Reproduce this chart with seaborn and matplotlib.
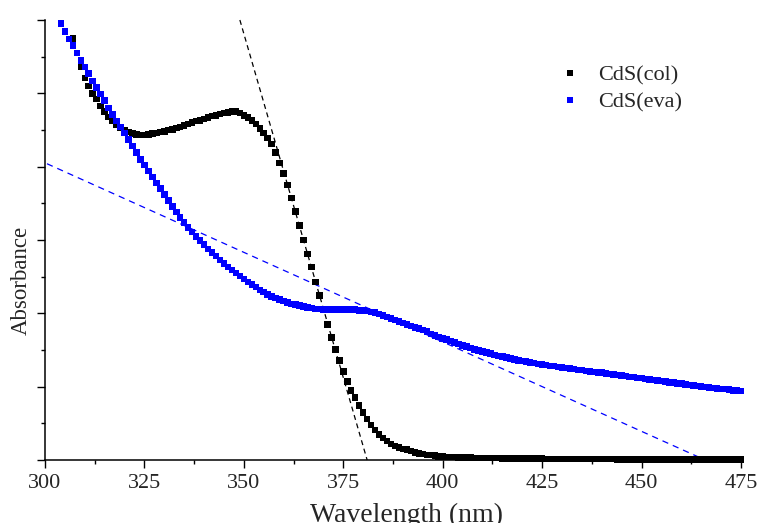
import numpy as np
import pandas as pd
import matplotlib
matplotlib.use("Agg")
import matplotlib.pyplot as plt
from matplotlib.ticker import MultipleLocator, NullFormatter
import seaborn as sns

# Absorption spectra of the two CdS films (absorbance, arbitrary units)
wl_col = np.arange(307, 476)
abs_col = [
    5.75, 5.55, 5.36, 5.21, 5.10, 5.00, 4.92, 4.83, 4.75, 4.68,
    4.62, 4.57, 4.53, 4.50, 4.47, 4.45, 4.44, 4.43, 4.43, 4.44,
    4.45, 4.46, 4.47, 4.48, 4.50, 4.51, 4.53, 4.54, 4.56, 4.58,
    4.60, 4.62, 4.63, 4.65, 4.67, 4.69, 4.70, 4.72, 4.73, 4.74,
    4.75, 4.75, 4.73, 4.70, 4.67, 4.63, 4.58, 4.52, 4.46, 4.39,
    4.31, 4.19, 4.05, 3.91, 3.75, 3.57, 3.39, 3.20, 3.00, 2.81,
    2.63, 2.43, 2.24, 2.05, 1.85, 1.67, 1.51, 1.36, 1.21, 1.07,
    0.95, 0.85, 0.74, 0.65, 0.56, 0.48, 0.41, 0.35, 0.30, 0.26,
    0.22, 0.19, 0.17, 0.15, 0.14, 0.12, 0.10, 0.09, 0.08, 0.07,
    0.065, 0.06, 0.05, 0.045, 0.042, 0.040, 0.038, 0.036, 0.034, 0.032,
    0.031, 0.030, 0.029, 0.028, 0.027, 0.026, 0.025, 0.024, 0.023, 0.022,
    0.021, 0.020, 0.020, 0.019, 0.019, 0.018, 0.018, 0.017, 0.017, 0.016,
    0.016, 0.015, 0.015, 0.015, 0.014, 0.014, 0.014, 0.013, 0.013, 0.013,
    0.012, 0.012, 0.012, 0.011, 0.011, 0.011, 0.011, 0.010, 0.010, 0.010,
    0.010, 0.009, 0.009, 0.009, 0.009, 0.009, 0.008, 0.008, 0.008, 0.008,
    0.008, 0.007, 0.007, 0.007, 0.007, 0.007, 0.007, 0.006, 0.006, 0.006,
    0.006, 0.006, 0.006, 0.005, 0.005, 0.005, 0.005, 0.005, 0.005,
]

wl_eva = np.arange(304, 476)
abs_eva = [
    5.955, 5.84, 5.74, 5.65, 5.55, 5.45, 5.36, 5.27, 5.17, 5.08,
    4.99, 4.90, 4.80, 4.71, 4.62, 4.54, 4.46, 4.37, 4.28, 4.19,
    4.10, 4.02, 3.94, 3.86, 3.78, 3.70, 3.62, 3.54, 3.46, 3.38,
    3.31, 3.24, 3.17, 3.11, 3.05, 2.99, 2.94, 2.88, 2.83, 2.78,
    2.73, 2.68, 2.63, 2.59, 2.55, 2.51, 2.47, 2.43, 2.39, 2.36,
    2.32, 2.29, 2.26, 2.23, 2.21, 2.19, 2.17, 2.15, 2.13, 2.12,
    2.11, 2.09, 2.08, 2.07, 2.06, 2.06, 2.05, 2.05, 2.05, 2.05,
    2.05, 2.05, 2.05, 2.05, 2.05, 2.04, 2.04, 2.03, 2.02, 2.01,
    1.99, 1.97, 1.95, 1.93, 1.91, 1.89, 1.87, 1.85, 1.83, 1.81,
    1.79, 1.77, 1.75, 1.72, 1.70, 1.68, 1.66, 1.64, 1.62, 1.60,
    1.58, 1.56, 1.545, 1.53, 1.51, 1.495, 1.48, 1.465, 1.45, 1.435,
    1.42, 1.41, 1.395, 1.385, 1.37, 1.36, 1.35, 1.34, 1.33, 1.32,
    1.31, 1.305, 1.295, 1.285, 1.28, 1.27, 1.26, 1.255, 1.245, 1.24,
    1.23, 1.225, 1.215, 1.21, 1.20, 1.195, 1.19, 1.18, 1.175, 1.165,
    1.16, 1.15, 1.145, 1.135, 1.13, 1.12, 1.115, 1.105, 1.10, 1.09,
    1.085, 1.075, 1.07, 1.06, 1.055, 1.045, 1.04, 1.03, 1.025, 1.015,
    1.01, 1.00, 0.995, 0.99, 0.985, 0.975, 0.97, 0.965, 0.96, 0.95,
    0.945, 0.94,
]

# Band-edge tangents (end points of each fitted straight line)
tan_col_x = [349.0, 381.0]
tan_col_y = [6.0, 0.0]
tan_eva_x = [300.5, 466.0]
tan_eva_y = [4.04, 0.0]

labels = ["CdS(col)", "CdS(eva)"]
colors = ["#000000", "#0000ff"]

df = pd.concat([
    pd.DataFrame({"wl": wl_col, "A": abs_col, "sample": labels[0]}),
    pd.DataFrame({"wl": wl_eva, "A": abs_eva, "sample": labels[1]}),
], ignore_index=True)

sns.set_theme(style="ticks")
plt.rcParams["font.family"] = "Liberation Serif"

fig = plt.figure(figsize=(7.6, 5.23), dpi=100)
ax = fig.add_axes([45 / 760, 1 - 460 / 523, 696 / 760, 440 / 523])

sns.lineplot(x=tan_col_x, y=tan_col_y, ax=ax, color="black", lw=0.9,
             linestyle=(0, (4, 3)), clip_on=False, zorder=2)
sns.lineplot(x=tan_eva_x, y=tan_eva_y, ax=ax, color="#0000ff", lw=0.9,
             linestyle=(0, (5, 4)), clip_on=False, zorder=2)

sns.scatterplot(data=df, x="wl", y="A", hue="sample", hue_order=labels,
                palette=colors, marker="s", s=22, linewidth=0,
                ax=ax, zorder=3, clip_on=False)

ax.set_xlim(300, 475)
ax.set_ylim(0, 6)
ax.xaxis.set_major_locator(MultipleLocator(25))
ax.xaxis.set_minor_locator(MultipleLocator(12.5))
ax.yaxis.set_major_locator(MultipleLocator(1))
ax.yaxis.set_minor_locator(MultipleLocator(0.5))
ax.yaxis.set_major_formatter(NullFormatter())

for s in ["top", "right"]:
    ax.spines[s].set_visible(False)
for s in ["left", "bottom"]:
    ax.spines[s].set_linewidth(1.1)
    ax.spines[s].set_color("black")

ax.tick_params(which="major", direction="out", length=6, width=1.0,
               color="black", labelsize=16, pad=4)
ax.tick_params(which="minor", direction="out", length=3, width=1.0,
               color="black")

ax.set_xlabel("Wavelength (nm)", fontsize=20)
ax.xaxis.set_label_coords(0.519, -0.097)
ax.set_ylabel("Absorbance", fontsize=16.5)
ax.yaxis.set_label_coords(-0.019, 0.407)

handles, lbls = ax.get_legend_handles_labels()
ax.legend(handles, lbls, loc="upper left", bbox_to_anchor=(0.709, 0.943),
          frameon=False, fontsize=16, markerscale=0.8, handletextpad=0.8,
          labelspacing=0.3, handlelength=1.0)

fig.savefig("out.png", dpi=100)
